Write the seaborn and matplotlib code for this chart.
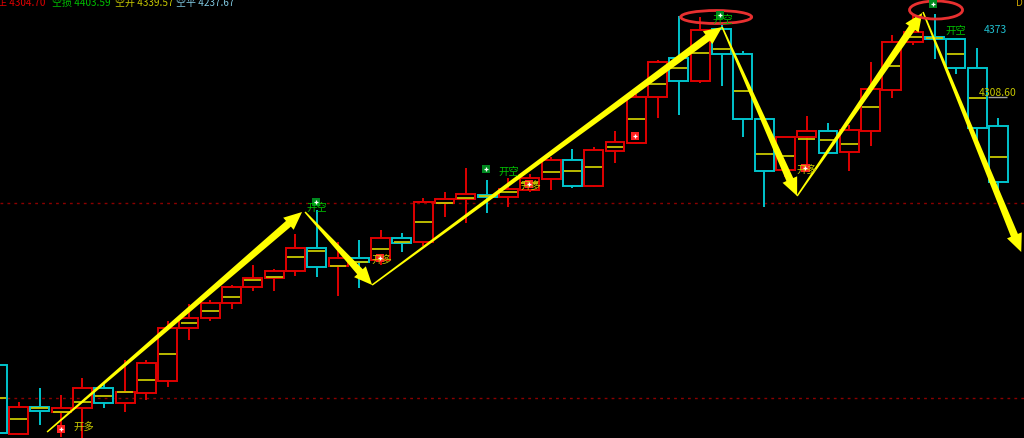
import numpy as np
import pandas as pd
import seaborn as sns
import matplotlib.pyplot as plt
from matplotlib.patches import Rectangle, Polygon, Ellipse

# candle data (price units)
open_p = [4038, 3969, 3996, 3991, 3995, 4015, 4000, 4010, 4022, 4075,
          4085, 4100, 4116, 4125, 4132, 4155, 4137, 4145, 4143, 4165,
          4161, 4200, 4204, 4208, 4206, 4213, 4224, 4243, 4217, 4252,
          4260, 4306, 4345, 4322, 4374, 4349, 4284, 4233, 4266, 4272,
          4251, 4272, 4313, 4361, 4366, 4364, 4335, 4277]
close_p = [3970, 3996, 3992, 3995, 4015, 4000, 4011, 4040, 4075, 4085,
           4100, 4116, 4125, 4132, 4155, 4136, 4145, 4141, 4165, 4160,
           4201, 4204, 4209, 4206, 4214, 4225, 4243, 4217, 4253, 4261,
           4306, 4341, 4322, 4373, 4349, 4284, 4232, 4266, 4272, 4250,
           4273, 4314, 4361, 4371, 4364, 4335, 4275, 4221]
high_p = [4038, 4001, 4015, 4008, 4025, 4019, 4043, 4043, 4082, 4099,
          4103, 4118, 4138, 4134, 4169, 4193, 4161, 4163, 4173, 4170,
          4205, 4211, 4235, 4223, 4225, 4229, 4246, 4254, 4256, 4272,
          4309, 4343, 4387, 4386, 4378, 4352, 4284, 4266, 4287, 4280,
          4278, 4341, 4368, 4388, 4389, 4364, 4355, 4285]
low_p = [3970, 3968, 3978, 3966, 3965, 3995, 3991, 4003, 4016, 4063,
         4082, 4094, 4112, 4112, 4127, 4126, 4107, 4115, 4138, 4151,
         4157, 4186, 4180, 4190, 4196, 4211, 4213, 4215, 4216, 4240,
         4259, 4285, 4288, 4320, 4317, 4266, 4196, 4226, 4236, 4250,
         4232, 4257, 4305, 4358, 4344, 4329, 4256, 4203]
# yellow line drawn across every bar
avg_p = [4005, 3984, 3995, 3991, 4001, 4007, 4011, 4023, 4049, 4080,
         4092, 4106, 4123, 4126, 4146, 4152, 4137, 4141, 4154, 4161,
         4181, 4200, 4205, 4207, 4211, 4220, 4231, 4232, 4236, 4256,
         4284, 4319, 4335, 4350, 4354, 4312, 4249, 4247, 4264, 4263,
         4259, 4296, 4337, 4366, 4365, 4349, 4305, 4246]

# signals: bar position, price, label position
long_x = [3.0, 17.97, 24.97, 29.94, 37.93]
long_y = [3974, 4145, 4219, 4267, 4235]
long_lx = [3.56, 17.55, 24.54, None, 37.5]
long_ly = [3976, 4143, 4217, None, 4233]
short_x = [14.97, 22.95, 33.93, 43.93]
short_y = [4201, 4234, 4388, 4399]
short_lx = [14.54, 23.51, 33.56, 44.5]
short_ly = [4195, 4231, 4383, 4372]

# hand-drawn arrows (from bar, price) -> (to bar, price)
arrows = [(2.34, 3971, 14.31, 4191),
          (14.45, 4191, 17.60, 4118),
          (17.60, 4118, 34.03, 4376),
          (34.03, 4376, 37.55, 4207),
          (37.55, 4207, 43.42, 4390),
          (43.46, 4391, 48.07, 4151)]

levels = [4200, 4005]
legend_txt = ["空损 4403.59", "空开 4339.57", "空平 4237.67"]

RED = "#e00000"
CYAN = "#00c4cc"
YEL = "#c8c800"

sns.set_theme(style="dark", rc={"axes.facecolor": "black", "figure.facecolor": "black"})
plt.rcParams['font.family'] = ['Noto Sans CJK SC', 'DejaVu Sans']

fig = plt.figure(figsize=(10.24, 4.38), dpi=100)
ax = fig.add_axes([0, 0, 1, 1])
ax.set_facecolor("black")
ax.set_xlim(0.13, 48.2)
ax.set_ylim(3965, 4403)
ax.set_xticks([])
ax.set_yticks([])
for s in ax.spines.values():
    s.set_visible(False)

for lv in levels:
    ax.axhline(lv, color="#8b0000", lw=1, ls=(0, (2, 3)), zorder=1)

w = 0.89
for i in range(len(open_p)):
    o, c, h, l = open_p[i], close_p[i], high_p[i], low_p[i]
    col = RED if c >= o else CYAN
    top, bot = max(o, c), min(o, c)
    ax.add_patch(Rectangle((i - w / 2, bot), w, top - bot, fill=False,
                           ec=col, lw=1.4, zorder=2))
    if h > top:
        ax.vlines(i, top, h, color=col, lw=1.4, zorder=2)
    if l < bot:
        ax.vlines(i, l, bot, color=col, lw=1.4, zorder=2)
    ax.hlines(avg_p[i], i - w / 2 + 0.05, i + w / 2 - 0.05, color=YEL, lw=1.3, zorder=2)


def taper_arrow(x0, y0, x1, y1, w0=1.5, w1=7.5, hw=16, hl=18):
    T = ax.transData
    a = T.transform((x0, y0))
    b = T.transform((x1, y1))
    d = b - a
    u = d / np.hypot(*d)
    n = np.array([-u[1], u[0]])
    base = b - u * hl
    pts = [a + n * w0 / 2, base + n * w1 / 2, base + n * hw / 2, b,
           base - n * hw / 2, base - n * w1 / 2, a - n * w0 / 2]
    pts = T.inverted().transform(np.array(pts))
    ax.add_patch(Polygon(pts, closed=True, fc="#ffff00", ec="none", zorder=4))


for a in arrows:
    taper_arrow(*a)

ax.add_patch(Ellipse((33.75, 4386), 3.33, 13, fill=False, ec="#e83030", lw=2, zorder=5))
ax.add_patch(Ellipse((44.07, 4393), 2.49, 18, fill=False, ec="#e83030", lw=2, zorder=5))

sig = pd.DataFrame({"x": long_x + short_x, "y": long_y + short_y,
                    "kind": ["long"] * len(long_x) + ["short"] * len(short_x)})
sns.scatterplot(data=sig, x="x", y="y", hue="kind", marker="s", s=38,
                palette={"long": "#ff2020", "short": "#008a20"},
                edgecolor="none", legend=False, ax=ax, zorder=6)
ax.scatter(sig["x"], sig["y"], marker="+", s=10, c="white", lw=0.9, zorder=7)

for lx, ly in zip(long_lx, long_ly):
    if lx is not None:
        ax.text(lx, ly, "开多", color=YEL, fontsize=7.5, ha="left", va="center", zorder=6)
for lx, ly in zip(short_lx, short_ly):
    ax.text(lx, ly, "开空", color="#00c000", fontsize=7.5, ha="left", va="center", zorder=6)

ax.text(46.3, 4373, "4373", color="#20c0d0", fontsize=7.5, ha="left", va="center")
ax.text(46.1, 4310, "4308.60", color=YEL, fontsize=7.5, ha="left", va="center")
ax.hlines(4306, 46.5, 47.4, color="#a0a0a0", lw=1)

# top legend line
fig.text(45 / 1024, 1 - 3 / 438, "空正 4304.70", color=RED, fontsize=7.2, ha="right", va="center")
for txt, px, col in zip(legend_txt, [52, 115, 176], ["#00c000", YEL, "#80c8e0"]):
    fig.text(px / 1024, 1 - 3 / 438, txt, color=col, fontsize=7.2, ha="left", va="center")
fig.text(1016 / 1024, 1 - 3 / 438, "D", color="#c8a000", fontsize=7.2, ha="left", va="center")

fig.savefig("out.png", dpi=100, facecolor="black")
